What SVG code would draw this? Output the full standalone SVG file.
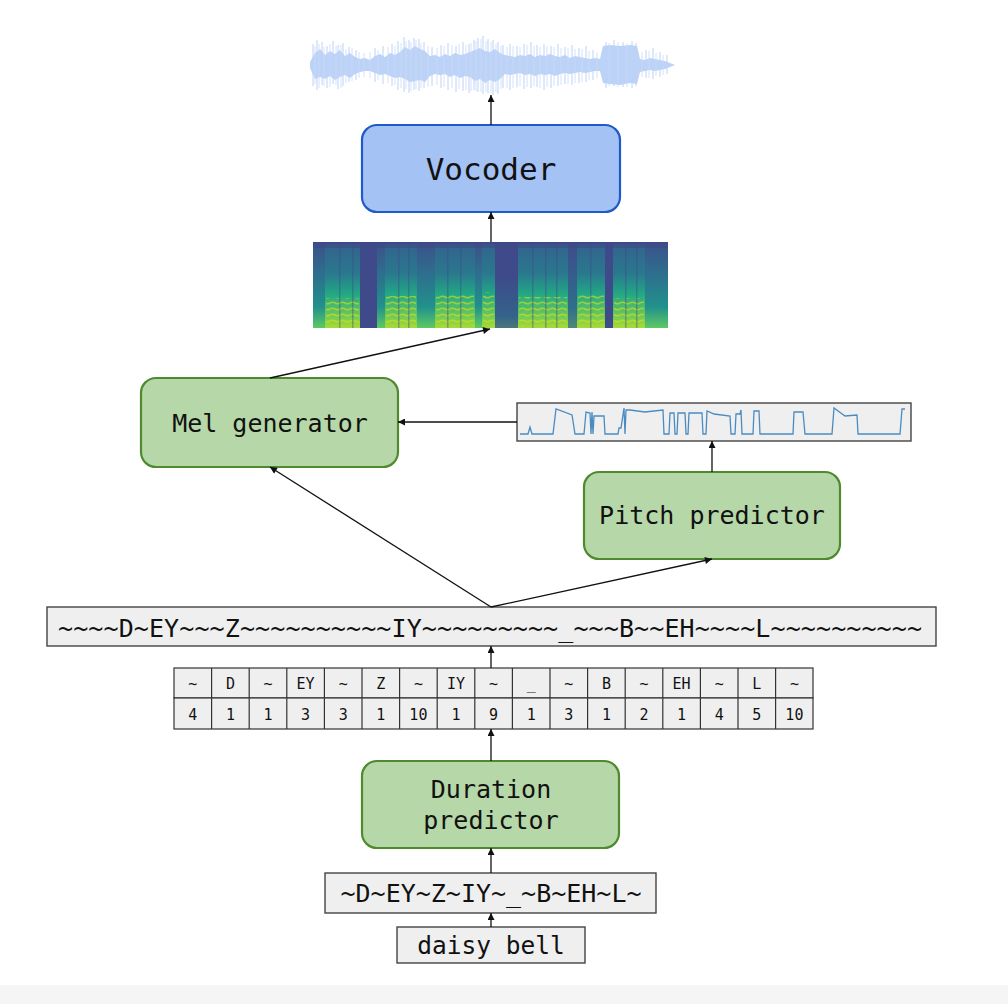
<svg xmlns="http://www.w3.org/2000/svg" width="1008" height="1004" viewBox="0 0 1008 1004">
<style>
.mono{font-family:"DejaVu Sans Mono","Liberation Mono",monospace;fill:#111}
.green{fill:#b6d7a8;stroke:#4f8a2e;stroke-width:2.2}
.blue{fill:#a4c2f4;stroke:#1f5bc8;stroke-width:2.2}
.gbox{fill:#efefef;stroke:#444;stroke-width:1.4}
.conn{stroke:#111;stroke-width:1.3;fill:none;marker-end:url(#ah)}
.cell{fill:#efefef;stroke:#333;stroke-width:1.2}
.tc{font-size:15px;text-anchor:middle}
.d{fill:#3e4a89}
.v{fill:url(#gv)}
.b{fill:url(#gb)}
</style>
<defs>
<marker id="ah" viewBox="0 0 10 10" refX="10" refY="5" markerWidth="8" markerHeight="7" markerUnits="userSpaceOnUse" orient="auto">
<path d="M0,0 L10,5 L0,10 z" fill="#111"/>
</marker>
<linearGradient id="gv" x1="0" y1="0" x2="0" y2="1">
<stop offset="0" stop-color="#3b528b"/><stop offset="0.4" stop-color="#2c728e"/><stop offset="0.75" stop-color="#21918c"/><stop offset="1" stop-color="#5ec962"/>
</linearGradient>
<linearGradient id="gb" x1="0" y1="0" x2="0" y2="1">
<stop offset="0" stop-color="#33638d"/><stop offset="0.35" stop-color="#2a788e"/><stop offset="0.6" stop-color="#22a884"/><stop offset="0.85" stop-color="#6cc85a"/><stop offset="1" stop-color="#a8db34"/>
</linearGradient>
<pattern id="stripes" width="10" height="6" patternUnits="userSpaceOnUse">
<path d="M0,3 Q2.5,1.5 5,3 T10,3" stroke="#d4e21a" stroke-width="1.6" fill="none" opacity="0.6"/>
</pattern>
</defs>
<rect width="1008" height="1004" fill="#ffffff"/>
<rect x="0" y="985" width="1008" height="19" fill="#f5f5f5"/>

<g id="waveform">
<polygon fill="#bcd2f6" points="310,62 315,53 320,49 325,55 330,51 335,54 340,50 345,56 350,53 355,57 360,59 365,58 370,60 375,56 380,54 385,57 390,53 395,55 400,52 405,47 410,50 415,46 420,49 425,51 430,56 435,55 440,57 445,54 450,56 455,53 460,55 465,54 470,52 475,50 480,48 485,51 490,52 495,49 500,53 505,55 510,56 515,57 520,55 525,56 530,54 535,57 540,55 545,56 550,54 555,56 560,57 565,55 570,58 575,56 580,57 585,58 590,59 595,58 600,59 603,46 610,45 620,46 630,45 637,46 640,59 645,60 650,58 655,59 660,60 665,61 670,63 675,65 670,67 665,69 660,70 655,71 650,70 645,71 640,72 637,84 630,83 620,85 610,84 603,83 600,71 595,71 590,72 585,73 580,72 575,73 570,74 565,73 560,74 555,76 550,74 545,75 540,74 535,76 530,74 525,75 520,73 515,74 510,75 505,74 500,79 495,82 490,80 485,83 480,79 475,81 470,77 465,76 460,78 455,75 450,77 445,74 440,75 435,74 430,76 425,82 420,80 415,81 410,82 405,79 400,77 395,78 390,76 385,74 380,75 375,73 370,71 365,71 360,72 355,74 350,78 345,75 340,77 335,80 330,76 325,79 320,77 315,79 310,68"/>
<path fill="none" stroke="#bcd2f6" stroke-width="1" d="M313,44V86 M317,40V90 M322,42V85 M327,46V88 M333,41V84 M338,45V89 M343,43V86 M349,47V82 M356,50V80 M375,48V82 M383,46V84 M392,44V86 M398,41V90 M404,37V92 M409,40V93 M414,38V90 M419,39V91 M424,42V88 M432,47V86 M441,45V88 M448,43V90 M456,46V92 M463,42V91 M469,44V93 M474,40V90 M478,38V92 M483,36V94 M488,39V93 M493,40V95 M498,42V94 M503,45V88 M510,44V90 M517,46V87 M524,44V89 M531,42V88 M537,45V87 M544,44V90 M551,46V88 M558,44V86 M565,47V84 M572,45V85 M579,48V83 M586,46V82 M593,50V80 M606,42V88 M614,40V86 M623,42V87 M632,41V88 M636,43V86 M646,50V78 M653,48V79 M660,52V77 M667,55V74"/>
<path fill="none" stroke="#c9dbf8" stroke-width="0.8" d="M315,46V84 M319,44V88 M324,47V86 M330,44V87 M336,46V85 M341,45V88 M346,49V83 M352,48V81 M359,52V78 M364,53V77 M370,52V78 M378,50V80 M388,47V83 M395,46V85 M401,43V88 M406,41V89 M411,42V91 M416,40V89 M421,43V88 M428,46V87 M437,48V85 M444,46V87 M452,45V88 M459,44V89 M466,45V90 M471,43V91 M476,41V91 M481,39V92 M486,41V92 M491,42V93 M496,44V92 M501,46V89 M507,47V88 M513,46V88 M520,47V86 M527,45V87 M534,46V86 M540,47V88 M547,46V87 M554,47V86 M561,48V85 M568,48V84 M575,49V83 M582,49V82 M589,51V80 M597,52V78 M609,43V86 M618,42V87 M627,43V87 M642,52V77 M649,51V78 M656,53V76 M663,55V75"/>
</g>

<g id="vocoder">
<rect class="blue" x="362" y="125" width="258" height="87" rx="15"/>
<text class="mono" x="491" y="180" font-size="31" text-anchor="middle">Vocoder</text>
</g>

<g id="spectrogram">
<rect class="d" x="313" y="242" width="355" height="86"/>
<rect class="v" x="313" y="244" width="12" height="84"/>
<rect class="b" x="325" y="244" width="35" height="84"/>
<rect class="v" x="377" y="244" width="8" height="84"/>
<rect class="b" x="385" y="244" width="32" height="84"/>
<rect class="v" x="417" y="244" width="18" height="84"/>
<rect class="b" x="435" y="244" width="40" height="84"/>
<rect class="v" x="475" y="244" width="7" height="84"/>
<rect class="b" x="482" y="244" width="13" height="84"/>
<rect class="v" x="495" y="280" width="23" height="48" opacity="0.35"/>
<rect class="b" x="518" y="244" width="50" height="84"/>
<rect class="v" x="568" y="244" width="9" height="84" opacity="0.5"/>
<rect class="b" x="577" y="244" width="28" height="84"/>
<rect class="b" x="613" y="244" width="32" height="84"/>
<rect class="v" x="645" y="244" width="23" height="84"/>
<g fill="url(#stripes)">
<rect x="326" y="298" width="33" height="28"/>
<rect x="386" y="296" width="30" height="30"/>
<rect x="436" y="295" width="38" height="31"/>
<rect x="483" y="292" width="11" height="34"/>
<rect x="519" y="297" width="48" height="29"/>
<rect x="578" y="294" width="26" height="32"/>
<rect x="614" y="298" width="30" height="28"/>
</g>
<g fill="#3e4a89" opacity="0.4">
<rect x="339" y="244" width="1.5" height="84"/><rect x="352" y="244" width="1.5" height="84"/>
<rect x="398" y="244" width="1.5" height="84"/><rect x="408" y="244" width="1.5" height="84"/>
<rect x="447" y="244" width="1.5" height="84"/><rect x="460" y="244" width="1.5" height="84"/>
<rect x="532" y="244" width="1.5" height="84"/><rect x="545" y="244" width="1.5" height="84"/>
<rect x="556" y="244" width="1.5" height="84"/><rect x="590" y="244" width="1.5" height="84"/>
<rect x="625" y="244" width="1.5" height="84"/><rect x="636" y="244" width="1.5" height="84"/>
</g>
<rect x="313" y="242" width="355" height="6" fill="#3e4a89" opacity="0.6"/>
</g>

<g id="mel-generator">
<rect class="green" x="141" y="378" width="257" height="89" rx="15"/>
<text class="mono" x="270" y="432" font-size="25" text-anchor="middle">Mel generator</text>
</g>

<g id="pitch-contour">
<rect class="gbox" x="517" y="403" width="394" height="38"/>
<path fill="none" stroke="#4a8cc2" stroke-width="1.3" d="M520,434 H528 L530,427 L532,434 H553 L556,409 L572,415 L575,434 H584 L586,412 L590,413 L591,434 L592,412 L593,434 L594,416 H604 L605,434 H618 L619,428 H621 L624,408 L625,434 L626,410 H630 L645,412 L663,410 L664,434 H669 L670,413 H674 L675,434 H677 L678,413 H685 L686,434 H688 L689,413 H702 L703,434 H706 L707,411 L714,414 L730,416 L731,434 H735 L736,414 H740 L741,410 L742,434 H753 L754,411 H759 L760,434 H793 L794,412 H803 L805,434 H832 L834,408 L845,416 L857,415 L858,434 H900 L902,409 H905"/>
</g>

<g id="pitch-predictor">
<rect class="green" x="584" y="472" width="256" height="87" rx="15"/>
<text class="mono" x="712" y="524" font-size="25" text-anchor="middle">Pitch predictor</text>
</g>

<g id="expanded-phonemes">
<rect class="gbox" x="47" y="607" width="889" height="39"/>
<text class="mono" x="58" y="637" font-size="25" textLength="864" lengthAdjust="spacing">~~~~D~EY~~~Z~~~~~~~~~~IY~~~~~~~~~_~~~B~~EH~~~~L~~~~~~~~~~</text>
</g>

<g id="duration-table">
<rect class="cell" x="174" y="668" width="639" height="30"/>
<rect class="cell" x="174" y="698" width="639" height="31"/>
<path stroke="#333" stroke-width="1.2" d="M211.6,668V729 M249.2,668V729 M286.8,668V729 M324.4,668V729 M362,668V729 M399.6,668V729 M437.2,668V729 M474.8,668V729 M512.4,668V729 M550,668V729 M587.6,668V729 M625.2,668V729 M662.8,668V729 M700.4,668V729 M738,668V729 M775.6,668V729"/>
<g class="mono tc">
<text x="192.8" y="689">~</text><text x="230.4" y="689">D</text><text x="268" y="689">~</text><text x="305.6" y="689">EY</text><text x="343.2" y="689">~</text><text x="380.8" y="689">Z</text><text x="418.4" y="689">~</text><text x="456" y="689">IY</text><text x="493.6" y="689">~</text><text x="531.2" y="689">_</text><text x="568.8" y="689">~</text><text x="606.4" y="689">B</text><text x="644" y="689">~</text><text x="681.6" y="689">EH</text><text x="719.2" y="689">~</text><text x="756.8" y="689">L</text><text x="794.4" y="689">~</text>
<text x="192.8" y="720">4</text><text x="230.4" y="720">1</text><text x="268" y="720">1</text><text x="305.6" y="720">3</text><text x="343.2" y="720">3</text><text x="380.8" y="720">1</text><text x="418.4" y="720">10</text><text x="456" y="720">1</text><text x="493.6" y="720">9</text><text x="531.2" y="720">1</text><text x="568.8" y="720">3</text><text x="606.4" y="720">1</text><text x="644" y="720">2</text><text x="681.6" y="720">1</text><text x="719.2" y="720">4</text><text x="756.8" y="720">5</text><text x="794.4" y="720">10</text>
</g>
</g>

<g id="duration-predictor">
<rect class="green" x="362" y="761" width="257" height="87" rx="15"/>
<text class="mono" x="491" y="798" font-size="25" text-anchor="middle">Duration</text>
<text class="mono" x="491" y="829" font-size="25" text-anchor="middle">predictor</text>
</g>

<g id="phonemes">
<rect class="gbox" x="325" y="873" width="331" height="40"/>
<text class="mono" x="491" y="902" font-size="25" text-anchor="middle">~D~EY~Z~IY~_~B~EH~L~</text>
</g>

<g id="input-text">
<rect class="gbox" x="397" y="927" width="188" height="36"/>
<text class="mono" x="491" y="954" font-size="24.5" text-anchor="middle">daisy bell</text>
</g>

<g id="connectors">
<line class="conn" x1="491" y1="927" x2="491" y2="913"/>
<line class="conn" x1="491" y1="873" x2="491" y2="848"/>
<line class="conn" x1="491" y1="761" x2="491" y2="729"/>
<line class="conn" x1="491" y1="668" x2="491" y2="646"/>
<line class="conn" x1="491" y1="607" x2="270" y2="467"/>
<line class="conn" x1="491" y1="607" x2="712" y2="559"/>
<line class="conn" x1="712" y1="472" x2="712" y2="441"/>
<line class="conn" x1="517" y1="422" x2="398" y2="422"/>
<line class="conn" x1="270" y1="378" x2="490" y2="329"/>
<line class="conn" x1="491" y1="242" x2="491" y2="212"/>
<line class="conn" x1="491" y1="125" x2="491" y2="95"/>
</g>
</svg>
